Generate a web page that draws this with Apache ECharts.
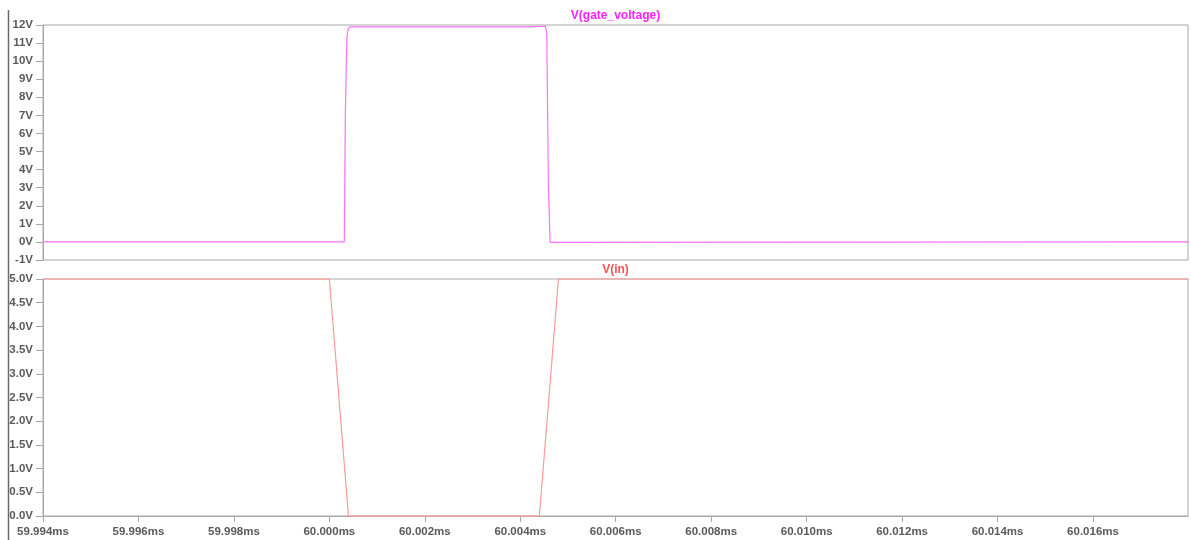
<!DOCTYPE html>
<html>
<head>
<meta charset="utf-8">
<style>
  html, body { margin: 0; padding: 0; background: #ffffff; }
  #chart { width: 1191px; height: 540px; }
</style>
<script src="https://cdn.jsdelivr.net/npm/echarts@6/dist/echarts.min.js"></script>
</head>
<body>
<div id="chart"></div>
<script>
// Transient analysis traces (time in ms, voltage in V)
const gateTime = [59.994, 60.000313, 60.000334, 60.000366, 60.000397, 60.000439,
                  60.004173, 60.004194, 60.004530, 60.004555, 60.004590, 60.004625, 60.018];
const gateVolt = [0, 0, 7.0, 11.3, 11.8, 11.9,
                  11.9, 11.93, 11.93, 11.5, 3.0, -0.02, 0];

const inTime = [59.994, 60.0000, 60.0004, 60.0044, 60.0048, 60.018];
const inVolt = [5, 5, 0, 0, 5, 5];

const traceNames = ['V(gate_voltage)', 'V(in)'];
const timeRange = [59.994, 60.01799];
const timeStep = 0.002;

const pair = (xs, ys) => xs.map((x, i) => [x, ys[i]]);

const PLOT_LEFT = 43, PLOT_W = 1145;
const FRAME = '#a8a8a8';
const LABEL = '#5a5a5a';
const FONT = 'Liberation Sans, Arial, sans-serif';

const yLabelStyle = (fmt) => ({
  color: LABEL, fontFamily: FONT, fontWeight: 'bold', fontSize: 11.5,
  margin: 10, formatter: fmt
});

const chart = echarts.init(document.getElementById('chart'), null, { renderer: 'canvas' });

chart.setOption({
  animation: false,
  backgroundColor: '#ffffff',
  grid: [
    { left: PLOT_LEFT, top: 25, width: PLOT_W, height: 235, show: true,
      borderColor: FRAME, borderWidth: 1, containLabel: false },
    { left: PLOT_LEFT, top: 279, width: PLOT_W, height: 237, show: true,
      borderColor: FRAME, borderWidth: 1, containLabel: false }
  ],
  xAxis: [
    { type: 'value', gridIndex: 0, min: timeRange[0], max: timeRange[1], interval: timeStep,
      axisLine: { show: false }, axisTick: { show: false }, axisLabel: { show: false },
      splitLine: { show: false } },
    { type: 'value', gridIndex: 1, min: timeRange[0], max: timeRange[1], interval: timeStep,
      axisLine: { show: true, lineStyle: { color: FRAME } },
      axisTick: { show: true, length: 6, lineStyle: { color: FRAME } },
      axisLabel: { color: LABEL, fontFamily: FONT, fontWeight: 'bold', fontSize: 11.5,
                   margin: 10, showMaxLabel: false,
                   formatter: v => v.toFixed(3) + 'ms' },
      splitLine: { show: false } }
  ],
  yAxis: [
    { type: 'value', gridIndex: 0, min: -1, max: 12, interval: 1,
      axisLine: { show: true, lineStyle: { color: FRAME } },
      axisTick: { show: true, length: 7, lineStyle: { color: FRAME } },
      axisLabel: yLabelStyle(v => Math.round(v) + 'V'),
      splitLine: { show: false } },
    { type: 'value', gridIndex: 1, min: 0, max: 5, interval: 0.5,
      axisLine: { show: true, lineStyle: { color: FRAME } },
      axisTick: { show: true, length: 7, lineStyle: { color: FRAME } },
      axisLabel: yLabelStyle(v => v.toFixed(1) + 'V'),
      splitLine: { show: false } }
  ],
  series: [
    { name: traceNames[0], type: 'line', xAxisIndex: 0, yAxisIndex: 0,
      data: pair(gateTime, gateVolt), showSymbol: false, smooth: false,
      lineStyle: { color: '#ff70ff', width: 1.2 }, clip: true },
    { name: traceNames[1], type: 'line', xAxisIndex: 1, yAxisIndex: 1,
      data: pair(inTime, inVolt), showSymbol: false, smooth: false,
      lineStyle: { color: '#ff9a9a', width: 1.2 }, clip: false }
  ],
  graphic: [
    { type: 'line', shape: { x1: 8.5, y1: 10, x2: 8.5, y2: 540 },
      style: { stroke: '#6a6a6a', lineWidth: 1.5 }, silent: true },
    { type: 'text', x: PLOT_LEFT + PLOT_W / 2, y: 16,
      style: { text: traceNames[0], fill: '#ff22ff', font: 'bold 12px ' + FONT,
               textAlign: 'center', textVerticalAlign: 'middle' } },
    { type: 'text', x: PLOT_LEFT + PLOT_W / 2, y: 270,
      style: { text: traceNames[1], fill: '#ff5050', font: 'bold 12px ' + FONT,
               textAlign: 'center', textVerticalAlign: 'middle' } }
  ]
});
</script>
</body>
</html>
